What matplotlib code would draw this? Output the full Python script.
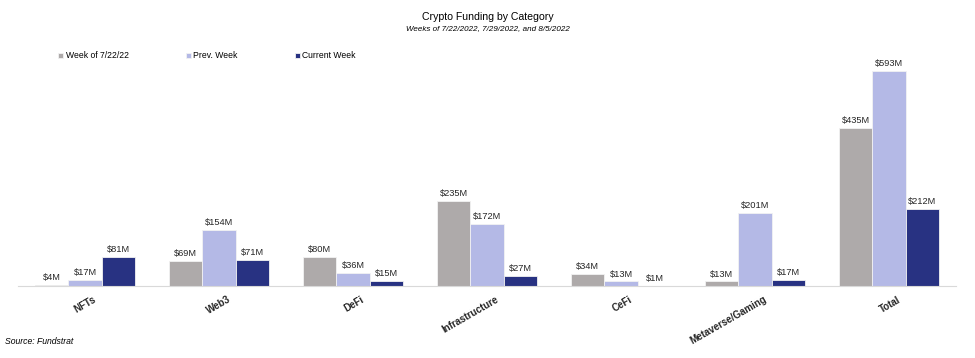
import matplotlib
matplotlib.use("Agg")
import matplotlib.pyplot as plt
import numpy as np

categories = ["NFTs", "Web3", "DeFi", "Infrastructure", "CeFi", "Metaverse/Gaming", "Total"]
week_0722 = [4, 69, 80, 235, 34, 13, 435]
prev_week = [17, 154, 36, 172, 13, 201, 593]
curr_week = [81, 71, 15, 27, 1, 17, 212]
series_names = ["Week of 7/22/22", "Prev. Week", "Current Week"]
colors = ["#AEAAAA", "#B4B9E6", "#283282"]

plt.rcParams['font.family'] = ['Liberation Sans', 'DejaVu Sans']

W, H = 975, 358
fig = plt.figure(figsize=(W/100, H/100), dpi=100)
ax_left, ax_right, ax_bottom, ax_top = 18, 956, 286, 60
ax = fig.add_axes([ax_left/W, 1-ax_bottom/H, (ax_right-ax_left)/W, (ax_bottom-ax_top)/H])

x = np.arange(len(categories))
bw = 0.25
series = [week_0722, prev_week, curr_week]
handles = []
for i, (vals, c, name) in enumerate(zip(series, colors, series_names)):
    pos = x + (i-1)*bw
    b = ax.bar(pos, vals, width=bw, color=c, edgecolor="#F2F2F2", linewidth=0.6, label=name)
    handles.append(b)
    for p, v in zip(pos, vals):
        ax.annotate(f"${v}M", (p, v), xytext=(0, 2), textcoords="offset points",
                    ha="center", va="bottom", fontsize=6.7, color="#262626")

ax.set_xlim(-0.5, len(categories)-0.5)
ax.set_ylim(0, 623)
for s in ["top", "right", "left"]:
    ax.spines[s].set_visible(False)
ax.spines["bottom"].set_color("#D9D9D9")
ax.spines["bottom"].set_linewidth(0.8)
ax.set_yticks([])
ax.set_xticks(x + 0.06)
ax.set_xticklabels(categories, rotation=30, ha="right", rotation_mode="anchor",
                   fontsize=7, fontweight="bold", color="#262626")
ax.tick_params(axis="x", length=0, pad=6)

fig.text(0.5, 1-17/H, "Crypto Funding by Category", ha="center", va="center", fontsize=7.6, color="#000000")
fig.text(0.5, 1-29/H, "Weeks of 7/22/2022, 7/29/2022, and 8/5/2022", ha="center", va="center",
         fontsize=5.8, style="italic", color="#000000")

fig.legend(handles=handles, labels=series_names, loc="center left",
           bbox_to_anchor=(58/W, 1-56/H), ncol=3, frameon=False, fontsize=6.2,
           handlelength=0.6, handleheight=0.6, handletextpad=0.3, columnspacing=6.6,
           borderaxespad=0, borderpad=0)

fig.text(5/W, 1-341/H, "Source: Fundstrat", ha="left", va="center", fontsize=6.2, style="italic")

fig.savefig("out.png", dpi=100)
